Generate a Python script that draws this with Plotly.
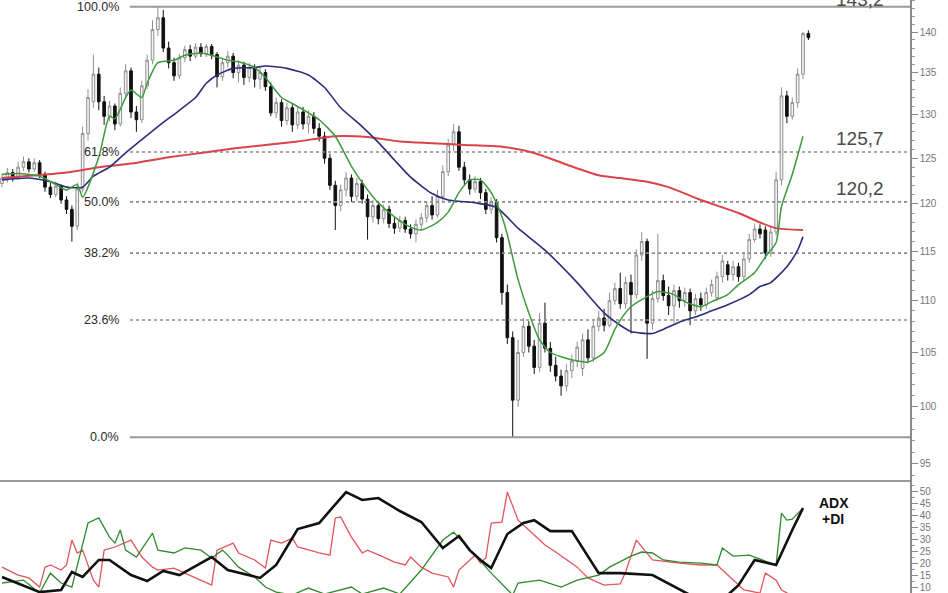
import math
import plotly.graph_objects as go

# ---------------- data ----------------
bar_index = list(range(151))
open_ = [122.2, 122.6, 123.4, 122.8, 124.0, 124.6, 123.8, 124.5, 123.2, 121.8,
         121.0, 121.9, 120.4, 119.4, 117.6, 121.6, 127.8, 131.5, 134.8, 131.5,
         129.8, 131.0, 128.9, 132.5, 135.2, 130.3, 129.4, 133.4, 136.5, 140.3,
         141.8, 138.0, 136.2, 134.6, 136.8, 137.8, 137.0, 138.1, 137.3, 138.2,
         137.2, 134.5, 136.2, 137.0, 135.0, 135.9, 134.4, 135.6, 134.2, 135.0,
         133.3, 130.2, 131.4, 129.3, 130.8, 128.8, 130.3, 128.9, 129.8, 128.4,
         127.5, 125.0, 122.0, 119.8, 121.5, 122.8, 120.8, 122.2, 120.5, 118.6,
         119.8, 118.4, 119.4, 117.9, 117.4, 118.2, 117.3, 116.8, 117.8, 118.5,
         119.8, 118.8, 120.8, 123.5, 126.5, 128.0, 124.0, 122.6, 121.6, 122.4,
         121.2, 119.4, 120.2, 116.4, 110.8, 106.4, 100.6, 105.0, 107.5, 105.6,
         103.6, 107.8, 105.4, 103.8, 102.8, 101.9, 103.3, 104.2, 103.5, 106.2,
         104.5, 107.5, 108.3, 107.6, 110.0, 111.2, 109.7, 111.8, 110.6, 114.6,
         116.0, 107.8, 110.2, 112.0, 110.5, 109.5, 111.0, 110.0, 110.8, 109.0,
         110.2, 109.6, 110.8, 110.3, 112.4, 113.6, 112.6, 113.4, 112.4, 114.2,
         116.2, 117.3, 117.2, 114.8, 117.0, 122.6, 132.2, 129.8, 131.4, 134.8,
         139.8]
close = [122.8, 123.4, 122.8, 124.0, 124.6, 123.8, 124.5, 123.2, 121.8, 121.0,
         121.9, 120.4, 119.4, 117.6, 121.6, 127.8, 132.0, 134.8, 131.5, 129.8,
         131.0, 128.9, 132.5, 135.2, 130.3, 129.4, 133.4, 136.5, 140.3, 141.8,
         138.0, 136.2, 134.6, 136.8, 137.8, 137.0, 138.1, 137.3, 138.2, 137.2,
         134.5, 136.2, 137.0, 135.0, 135.9, 134.4, 135.6, 134.2, 135.0, 133.3,
         130.2, 131.4, 129.3, 130.8, 128.8, 130.3, 128.9, 129.8, 128.4, 127.5,
         125.0, 122.0, 119.8, 121.5, 122.8, 120.8, 122.2, 120.5, 118.6, 119.8,
         118.4, 119.4, 117.9, 117.4, 118.2, 117.3, 116.8, 117.8, 118.5, 119.8,
         118.8, 120.8, 123.5, 126.5, 128.0, 124.0, 122.6, 121.6, 122.4, 121.2,
         119.4, 120.2, 116.4, 110.8, 106.4, 100.6, 105.0, 107.5, 105.6, 103.6,
         107.8, 105.4, 103.8, 102.8, 101.9, 103.3, 104.2, 105.5, 106.2, 104.5,
         107.5, 108.3, 107.6, 110.0, 111.2, 109.7, 111.8, 110.6, 114.6, 116.0,
         107.8, 110.2, 112.0, 110.5, 109.5, 111.0, 110.0, 110.8, 109.0, 110.2,
         109.6, 110.8, 111.6, 112.4, 114.0, 112.6, 113.4, 112.4, 114.2, 116.2,
         117.3, 116.8, 114.8, 117.0, 122.6, 132.2, 129.8, 131.4, 134.8, 139.8,
         139.3]
high = [123.3, 123.9, 123.8, 124.6, 125.2, 125.0, 125.0, 124.8, 123.5, 122.3,
        122.4, 122.1, 120.8, 119.8, 122.3, 128.6, 133.0, 137.2, 135.6, 132.2,
        131.6, 131.3, 133.2, 136.0, 135.6, 131.0, 134.0, 137.2, 141.5, 143.2,
        142.8, 138.8, 136.8, 137.3, 138.3, 138.4, 138.6, 138.6, 138.5, 138.5,
        137.5, 136.8, 137.6, 137.4, 136.5, 136.3, 136.2, 136.0, 135.6, 135.4,
        133.8, 132.0, 131.8, 131.4, 131.2, 130.9, 130.9, 130.5, 130.3, 129.0,
        128.0, 125.5, 122.5, 122.1, 123.5, 123.2, 122.8, 122.6, 121.0, 120.4,
        120.3, 119.9, 119.8, 118.5, 118.7, 118.6, 117.8, 118.3, 119.0, 120.3,
        120.8, 121.5, 124.2, 127.2, 128.9, 128.7, 124.6, 123.2, 123.0, 122.8,
        121.6, 120.7, 120.5, 116.8, 111.6, 107.0, 106.2, 108.3, 108.0, 106.2,
        108.8, 109.8, 106.0, 104.6, 103.4, 103.9, 104.8, 106.0, 106.8, 107.2,
        108.0, 109.0, 109.2, 110.8, 111.8, 112.8, 112.4, 112.6, 115.2, 117.0,
        116.3, 111.0, 116.8, 112.6, 111.4, 111.6, 111.4, 111.3, 111.2, 110.7,
        110.8, 111.3, 112.1, 112.9, 114.6, 114.0, 114.0, 113.8, 114.8, 116.8,
        117.9, 117.8, 117.6, 117.6, 123.5, 133.2, 132.8, 132.0, 135.5, 140.0,
        140.2]
low = [121.8, 122.3, 122.4, 122.6, 123.6, 123.4, 123.5, 122.8, 121.3, 120.6,
       120.7, 120.0, 118.9, 116.0, 117.2, 121.2, 127.0, 130.8, 130.5, 128.8,
       129.2, 128.2, 128.6, 132.0, 129.6, 128.0, 129.0, 133.0, 136.0, 139.5,
       137.5, 135.5, 134.0, 134.2, 136.3, 136.4, 136.7, 136.9, 136.9, 136.6,
       133.2, 134.0, 135.6, 134.3, 133.8, 133.5, 133.8, 133.2, 133.0, 132.8,
       129.8, 129.6, 128.6, 128.8, 128.0, 128.3, 128.3, 127.8, 127.8, 126.9,
       124.4, 121.5, 117.2, 119.2, 120.8, 120.2, 120.3, 120.0, 116.2, 118.0,
       117.8, 117.9, 117.4, 116.8, 117.0, 116.9, 116.3, 115.9, 117.2, 118.0,
       118.3, 118.5, 120.3, 123.0, 125.8, 123.6, 122.0, 121.0, 121.2, 120.5,
       118.9, 118.9, 115.9, 109.6, 105.8, 97.3, 100.0, 104.6, 105.0, 103.0,
       103.2, 105.0, 103.2, 102.3, 101.0, 101.4, 102.6, 103.6, 102.8, 104.0,
       104.1, 107.0, 107.0, 107.4, 109.6, 109.2, 109.2, 106.8, 110.2, 114.0,
       104.4, 107.2, 109.8, 110.0, 108.6, 107.8, 109.3, 109.4, 107.6, 108.6,
       109.0, 109.2, 110.4, 110.0, 111.8, 112.0, 112.0, 111.9, 112.0, 113.8,
       115.9, 116.3, 114.2, 114.4, 116.6, 122.0, 129.0, 129.4, 130.8, 134.2,
       139.0]

# moving averages
ma_short_idx = [0, 3, 7, 10, 12, 14, 15, 18, 20, 21, 23, 24, 26, 27, 29, 32, 34, 37, 39, 42,
                44, 47, 49, 52, 54, 57, 59, 62, 65, 68, 70, 73, 76, 78, 81, 83, 85, 87, 89, 91,
                93, 94, 96, 98, 100, 102, 104, 107, 109, 112, 114, 115, 117, 120, 122, 125, 127, 130, 132, 135,
                137, 140, 142, 144, 145, 147, 149]
ma_short_val = [123.2, 123.3, 123.0, 122.1, 121.5, 122.1, 120.7, 125.1, 129.8, 129.5, 132.0, 132.9, 132.0, 133.7, 136.2, 136.5, 137.1, 137.4, 137.1, 136.5,
                136.3, 135.6, 134.4, 132.0, 131.3, 130.2, 129.4, 127.5, 124.1, 121.5, 120.1, 118.6, 117.5, 117.2, 118.0, 119.1, 121.2, 122.6, 122.6, 121.2,
                118.6, 116.7, 112.1, 108.8, 106.2, 105.0, 104.6, 104.2, 104.1, 105.0, 107.2, 108.1, 109.4, 110.4, 110.9, 110.6, 109.9, 109.4, 109.9, 110.6,
                111.6, 112.8, 114.4, 115.9, 119.7, 123.2, 127.5]
ma_mid_idx = [0, 5, 9, 12, 15, 17, 20, 23, 26, 29, 33, 36, 38, 40, 43, 47, 49, 53, 57, 60,
              63, 67, 70, 73, 76, 80, 83, 88, 92, 96, 101, 107, 112, 115, 117, 121, 123, 126, 129, 132,
              135, 139, 141, 143, 146, 148, 149]
ma_mid_val = [122.6, 122.8, 122.4, 121.8, 121.8, 123.0, 124.0, 125.6, 127.1, 128.6, 130.5, 132.0, 133.7, 134.7, 135.5, 135.6, 135.8, 135.5, 134.7, 133.2,
              130.8, 128.6, 126.8, 124.8, 122.9, 121.1, 120.4, 120.1, 119.6, 117.4, 115.1, 111.8, 108.8, 107.6, 107.0, 106.8, 107.2, 107.9, 108.4, 109.0,
              109.6, 110.6, 111.4, 111.8, 113.4, 115.1, 116.5]
ma_long_idx = [0, 12, 18, 24, 31, 37, 43, 49, 55, 62, 68, 74, 80, 86, 93, 99, 105, 111, 115, 120,
               124, 130, 137, 141, 144, 149]
ma_long_val = [122.8, 123.4, 124.0, 124.4, 125.1, 125.6, 126.1, 126.5, 126.9, 127.5, 127.4, 126.9, 126.7, 126.5, 126.3, 125.6, 124.3, 123.1, 122.8, 122.4,
               121.8, 120.4, 119.0, 118.0, 117.4, 117.2]

# Fibonacci retracement
fib_levels = [143.2, 125.7, 120.2, 114.8, 108.1, 97.3]
fib_labels = ["100.0%", "61.8%", "50.0%", "38.2%", "23.6%", "0.0%"]
fib_solid = [True, False, False, False, False, True]
value_labels = ["143,2", "125,7", "120,2"]
value_levels = [143.2, 125.7, 120.2]

# ADX indicator
adx_idx = [0, 7, 11, 13, 15, 18, 20, 24, 27, 30, 33, 39, 42, 48, 51, 55, 59, 64, 67, 70,
           74, 78, 82, 85, 87, 89, 91, 94, 97, 99, 102, 106, 111, 115, 121, 128, 135, 137, 140, 144,
           147, 149]
adx_val = [14.2, 7.9, 8.8, 16.3, 14.2, 21.3, 21.3, 15.0, 12.5, 16.7, 15.0, 22.5, 17.1, 13.8, 19.2, 34.2, 36.7, 49.6, 46.3, 47.1,
           41.7, 37.1, 26.3, 31.3, 25.4, 21.3, 17.9, 32.1, 36.7, 37.9, 33.3, 33.3, 15.8, 15.8, 15.0, 6.7, 6.7, 10.8, 21.3, 19.2,
           33.8, 42.9]
pdi_idx = [0, 4, 7, 9, 11, 13, 16, 18, 20, 21, 22, 23, 25, 28, 29, 32, 34, 37, 39, 41,
           42, 44, 47, 49, 51, 54, 57, 60, 65, 67, 71, 74, 78, 82, 84, 86, 88, 91, 95, 96,
           100, 104, 107, 111, 113, 117, 119, 121, 123, 126, 130, 133, 134, 136, 139, 144, 145, 146, 147, 149]
pdi_val = [11.7, 12.9, 7.5, 15.8, 11.7, 10.0, 36.7, 38.8, 30.8, 28.3, 33.8, 25.4, 22.5, 32.5, 25.4, 24.2, 26.3, 25.4, 22.1, 25.4,
           23.3, 18.3, 14.2, 10.0, 7.9, 6.7, 9.6, 7.1, 10.0, 7.1, 9.6, 7.1, 17.1, 29.6, 32.9, 28.3, 23.3, 15.8, 6.7, 11.7,
           12.9, 10.0, 12.9, 15.0, 18.3, 22.9, 24.6, 24.2, 21.3, 20.4, 20.0, 19.2, 26.3, 22.9, 23.3, 19.2, 40.8, 37.9, 38.3, 42.9]
mdi_idx = [0, 3, 5, 7, 8, 9, 11, 12, 13, 14, 15, 17, 18, 19, 21, 24, 26, 28, 29, 32,
           34, 37, 39, 40, 43, 44, 47, 49, 50, 52, 54, 55, 59, 61, 62, 63, 65, 67, 68, 71,
           73, 75, 76, 78, 80, 83, 84, 85, 88, 89, 90, 91, 93, 94, 96, 98, 101, 103, 105, 107,
           109, 112, 115, 116, 118, 120, 121, 126, 130, 133, 135, 138, 141, 142, 144, 145, 147, 149]
mdi_val = [18.3, 15.0, 13.8, 10.0, 18.3, 19.2, 17.1, 19.2, 29.6, 24.2, 25.4, 12.9, 10.0, 25.4, 26.7, 29.6, 22.5, 18.3, 17.1, 17.9,
           15.8, 12.9, 10.8, 25.4, 28.3, 24.2, 21.3, 17.9, 29.6, 28.3, 30.4, 26.7, 24.2, 23.3, 38.8, 39.2, 30.8, 24.2, 25.4, 22.5,
           20.4, 19.2, 22.5, 18.3, 15.8, 14.2, 10.0, 17.1, 23.3, 20.0, 22.1, 36.7, 37.1, 49.6, 37.9, 33.8, 27.5, 24.6, 21.3, 18.3,
           13.8, 10.8, 11.3, 16.3, 29.6, 24.2, 21.3, 20.0, 19.2, 19.2, 15.0, 8.8, 7.5, 15.8, 12.9, 8.8, 6.3, 4.6]

price_ticks = [95, 100, 105, 110, 115, 120, 125, 130, 135, 140]
price_minor = list(range(93, 145))
adx_ticks = [10, 15, 20, 25, 30, 35, 40, 45, 50]

# ---------------- layout geometry ----------------
W, H = 948, 593
PLOT_W = 910                      # plot area width in px (axis at right)
PX_PER_BAR = 801 / 149
X0 = -2 / PX_PER_BAR
X1 = X0 + PLOT_W / PX_PER_BAR
SPLIT = 112 / H                   # lower panel height fraction
FIB_X_START = X0 + 130 / PX_PER_BAR
FONT = "Liberation Sans, Arial, sans-serif"

fig = go.Figure()

# fib lines
for lvl, solid in zip(fib_levels, fib_solid):
    fig.add_trace(go.Scatter(
        x=[FIB_X_START, X1], y=[lvl, lvl], mode="lines",
        line=dict(color="#9a9a9a" if solid else "#8c8c8c", width=2 if solid else 1.6,
                  dash="solid" if solid else "dot"),
        hoverinfo="skip", showlegend=False, xaxis="x", yaxis="y"))

# moving averages
fig.add_trace(go.Scatter(x=ma_long_idx, y=ma_long_val, mode="lines", line=dict(color="#d9434a", width=2, shape="spline", smoothing=0.6),
                         hoverinfo="skip", showlegend=False, xaxis="x", yaxis="y"))
fig.add_trace(go.Scatter(x=ma_mid_idx, y=ma_mid_val, mode="lines", line=dict(color="#2b2d7c", width=1.6, shape="spline", smoothing=0.6),
                         hoverinfo="skip", showlegend=False, xaxis="x", yaxis="y"))
fig.add_trace(go.Scatter(x=ma_short_idx, y=ma_short_val, mode="lines", line=dict(color="#3c9a3c", width=1.5, shape="spline", smoothing=0.6),
                         hoverinfo="skip", showlegend=False, xaxis="x", yaxis="y"))

# candles
fig.add_trace(go.Candlestick(
    x=bar_index, open=open_, high=high, low=low, close=close,
    increasing=dict(line=dict(color="#8f8f8f", width=1), fillcolor="#f4f4f4"),
    decreasing=dict(line=dict(color="#111111", width=1), fillcolor="#111111"),
    whiskerwidth=0, hoverinfo="skip", showlegend=False, xaxis="x", yaxis="y"))

# ADX panel
fig.add_trace(go.Scatter(x=mdi_idx, y=mdi_val, mode="lines", line=dict(color="#e2555c", width=1.3),
                         hoverinfo="skip", showlegend=False, xaxis="x", yaxis="y2"))
fig.add_trace(go.Scatter(x=pdi_idx, y=pdi_val, mode="lines", line=dict(color="#2f8a2f", width=1.3),
                         hoverinfo="skip", showlegend=False, xaxis="x", yaxis="y2"))
fig.add_trace(go.Scatter(x=adx_idx, y=adx_val, mode="lines", line=dict(color="#111111", width=2.6),
                         hoverinfo="skip", showlegend=False, xaxis="x", yaxis="y2"))

annotations = []
for lvl, lab in zip(fib_levels, fib_labels):
    annotations.append(dict(x=121 / PLOT_W, xref="paper", y=math.log10(lvl), yref="y",
                            text=lab, showarrow=False, xanchor="right", yanchor="middle",
                            font=dict(family=FONT, size=12.5, color="#2a2a2a")))
for i, (lvl, lab) in enumerate(zip(value_levels, value_labels)):
    annotations.append(dict(x=860 / PLOT_W, xref="paper", y=math.log10(lvl), yref="y",
                            text=lab, showarrow=False, xanchor="center", yanchor="bottom",
                            yshift=-5 if i == 0 else 1,
                            font=dict(family=FONT, size=19, color="#4a4a4a")))
annotations += [
    dict(x=817 / PLOT_W, xref="paper", y=45.0, yref="y2", text="<b>ADX</b>", showarrow=False,
         xanchor="left", yanchor="middle", font=dict(family=FONT, size=14, color="#111111")),
    dict(x=820 / PLOT_W, xref="paper", y=38.2, yref="y2", text="<b>+DI</b>", showarrow=False,
         xanchor="left", yanchor="middle", font=dict(family=FONT, size=14, color="#111111")),
    dict(x=817 / PLOT_W, xref="paper", y=9.5, yref="y2", text="<b>-DI</b>", showarrow=False,
         xanchor="left", yanchor="top", font=dict(family=FONT, size=14, color="#111111")),
]

fig.update_layout(
    width=W, height=H,
    margin=dict(l=0, r=W - PLOT_W, t=0, b=0),
    paper_bgcolor="white", plot_bgcolor="white",
    showlegend=False, hovermode=False,
    xaxis=dict(range=[X0, X1], visible=False, rangeslider=dict(visible=False),
               showgrid=False, zeroline=False, anchor="y"),
    yaxis=dict(type="log", domain=[SPLIT, 1], range=[math.log10(93.56), math.log10(144.08)],
               side="right", anchor="x", showgrid=False, zeroline=False,
               showline=True, linecolor="#8a8a8a", linewidth=1.5,
               tickmode="array", tickvals=price_ticks, ticktext=[str(v) for v in price_ticks],
               ticks="outside", ticklen=6, tickcolor="#8a8a8a", tickwidth=1,
               minor=dict(tickmode="array", tickvals=price_minor, ticks="outside", ticklen=3, tickcolor="#9a9a9a"),
               tickfont=dict(family=FONT, size=10, color="#777777")),
    yaxis2=dict(domain=[0, SPLIT], range=[7.53, 54.2], side="right", anchor="x",
                showgrid=False, zeroline=False, showline=True, linecolor="#8a8a8a", linewidth=1.5,
                tickmode="array", tickvals=adx_ticks, ticks="outside", ticklen=6, tickcolor="#8a8a8a",
                minor=dict(tickmode="linear", tick0=0, dtick=2.5, ticks="outside", ticklen=3, tickcolor="#9a9a9a"),
                tickfont=dict(family=FONT, size=10, color="#777777")),
    shapes=[dict(type="line", xref="paper", yref="paper", x0=0, x1=1, y0=SPLIT, y1=SPLIT,
                 line=dict(color="#9a9a9a", width=2))],
    annotations=annotations,
)

fig.write_html("out.html", config={"displayModeBar": False},
               post_script="document.body.style.margin='0px';document.body.style.overflow='hidden';")
